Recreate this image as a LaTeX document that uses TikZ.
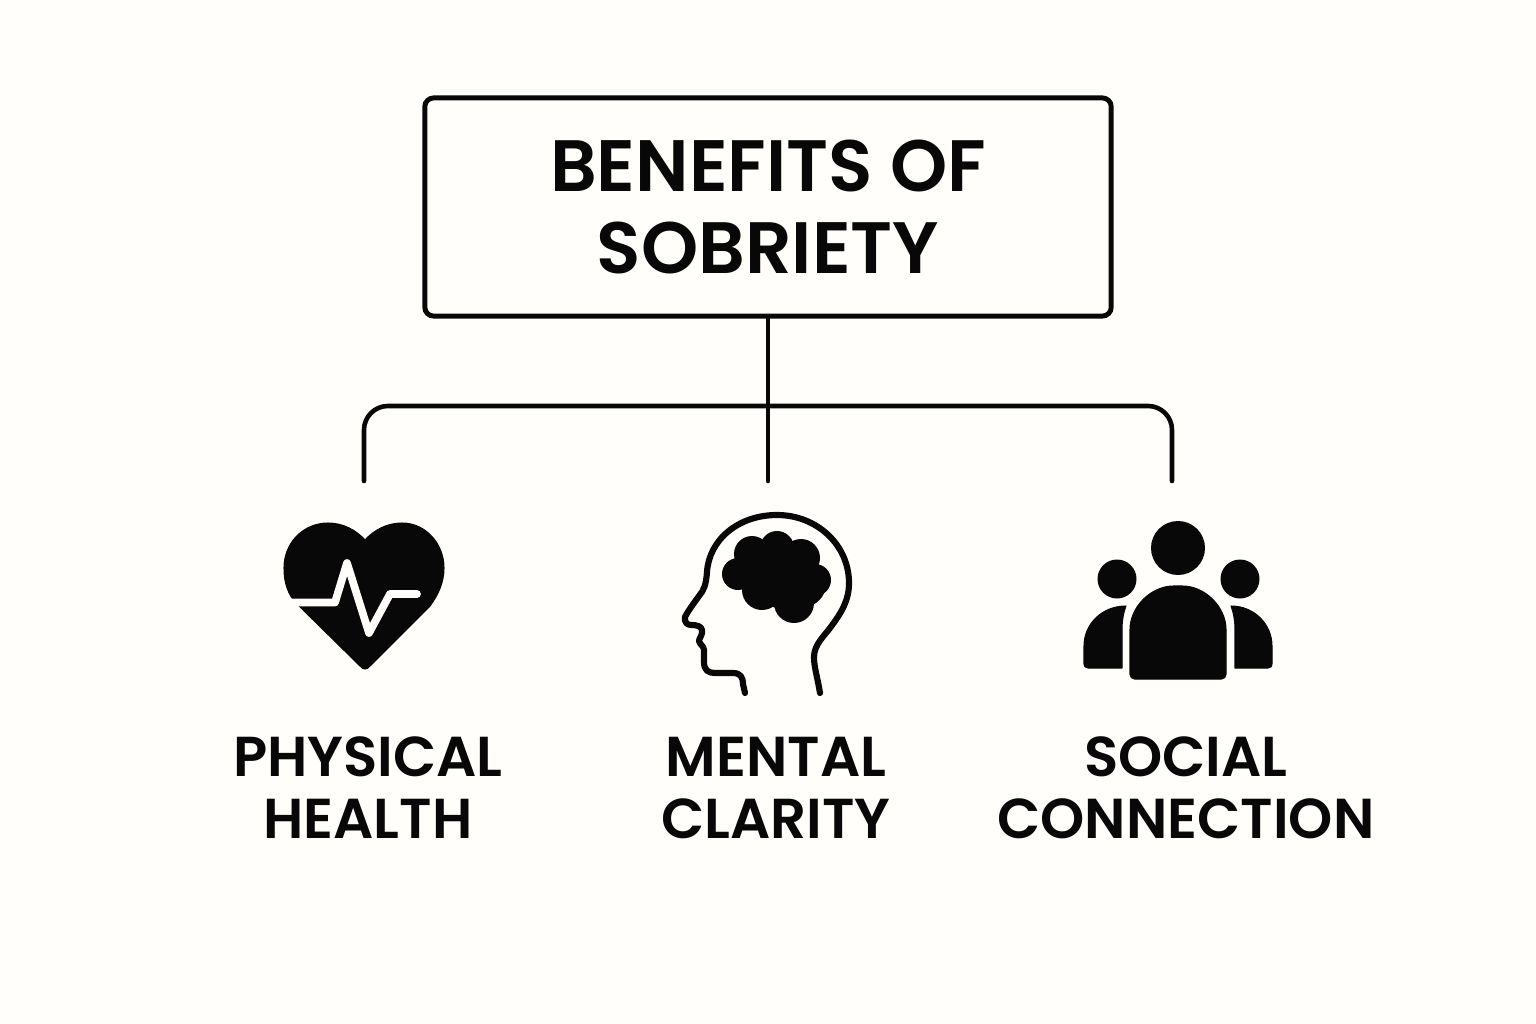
\documentclass[tikz,border=0pt]{standalone}
\usepackage{fontspec}
\setmainfont{Poppins}[BoldFont={Poppins SemiBold}]
\definecolor{paper}{RGB}{255,254,251}
\definecolor{ink}{RGB}{8,8,8}

\tikzset{
    link/.style={draw=ink, line width=1.3pt, line cap=round},
    titlebox/.style={draw=ink, line width=1.4pt, rounded corners=2.5pt, minimum width=6.86cm, minimum height=2.18cm, align=center, text=ink, font=\fontsize{20.7}{23.3}\selectfont\bfseries},
    caption/.style={align=center, text=ink, font=\fontsize{16}{17.6}\selectfont\bfseries},
    solid/.style={fill=ink, draw=ink, line width=0.3pt, line join=round}
}

\begin{document}
\begin{tikzpicture}[x=0.01cm, y=-0.01cm]

        \fill[paper] (0,0) rectangle (1536,1024);  %Hintergrund
        \useasboundingbox (0,0) rectangle (1536,1024);

        \node[titlebox] (title) at (768,207) {BENEFITS OF\\SOBRIETY};

        \coordinate (fork) at (768,406);
        \coordinate (healthend) at (364,481);
        \coordinate (clarityend) at (768,481);
        \coordinate (socialend) at (1172,481);

        \draw[link] (title) -- (clarityend);  %Stamm
        \draw[link, rounded corners=6.8pt] (healthend) |- (fork) -| (socialend);  %Querlinie

        % heart
        \fill[solid] (370,666) .. controls (367,670) and (363,670) .. (360,666) -- (297,604)
            .. controls (288,595) and (284,583) .. (284,568)
            .. controls (284,542) and (304,523) .. (328,523)
            .. controls (343,523) and (356,530) .. (365,540)
            .. controls (374,530) and (387,523) .. (402,523)
            .. controls (426,523) and (444,544) .. (444,568)
            .. controls (444,583) and (438,595) .. (430,606) -- cycle;
        \draw[paper, line width=2.2pt, line join=round] (288,602.5) -- (335,602.5) -- (347,563) -- (369,633) -- (390,594);
        \draw[paper, line width=2.2pt, line cap=round, line join=round] (390,594) -- (417,594);  %Pulslinie

        % head
        \draw[link, line width=1.75pt, line join=round] (820,693) .. controls (817,675) and (814,667) .. (814,657)
            .. controls (814,645) and (824,636) .. (830,628)
            .. controls (842,612) and (849,600) .. (849,583)
            .. controls (849,545) and (817,515) .. (777,515)
            .. controls (738,515) and (709,540) .. (707,572)
            .. controls (706,585) and (704,590) .. (699,596)
            .. controls (694,603) and (688,611) .. (685,617)
            .. controls (684,622) and (687,625) .. (691,625)
            .. controls (697,625) and (701,626) .. (702,630)
            .. controls (703,635) and (699,638) .. (699,641)
            .. controls (700,645) and (704,646) .. (704,650)
            -- (704,662) .. controls (704,670) and (708,673) .. (715,673)
            -- (733,673) .. controls (741,673) and (743,678) .. (743,684) -- (745,693);
        \foreach \x/\y/\r in {
                738/574/16,
                752/554/18,
                777/548/17,
                801/558/19,
                815/580/16,
                794/603/20,
                762/590/20,
                780/580/28,
                757/572/18,
                803/584/23
            }
            {
                \fill[ink] (\x,\y) circle (\r);  %Gehirn
            };

        % people
        \foreach \x/\y/\r in {1178/548/27, 1117/579/19.5, 1240/579/19.5}
            {
                \fill[ink] (\x,\y) circle (\r);  %Koepfe
            };
        \fill[solid, rounded corners=1.3pt] (1130,679) -- (1130,634) .. controls (1130,607) and (1151,586) .. (1178,586)
            .. controls (1205,586) and (1226,607) .. (1226,634) -- (1226,679) -- cycle;
        \fill[solid] (1084,646) .. controls (1084,624) and (1102,606) .. (1126,606)
            .. controls (1123,614) and (1122,622) .. (1122,630) -- (1122,668) -- (1088,668)
            .. controls (1085,668) and (1084,666) .. (1084,664) -- cycle;
        \fill[solid] (1272,646) .. controls (1272,624) and (1254,606) .. (1231,606)
            .. controls (1234,614) and (1235,622) .. (1235,630) -- (1235,668) -- (1268,668)
            .. controls (1271,668) and (1272,666) .. (1272,664) -- cycle;

        \node[caption] (health) at (368,788) {PHYSICAL\\HEALTH};
        \node[caption] (clarity) at (776,788) {MENTAL\\CLARITY};
        \node[caption] (connection) at (1186,788) {SOCIAL\\CONNECTION};

    \end{tikzpicture}
\end{document}
